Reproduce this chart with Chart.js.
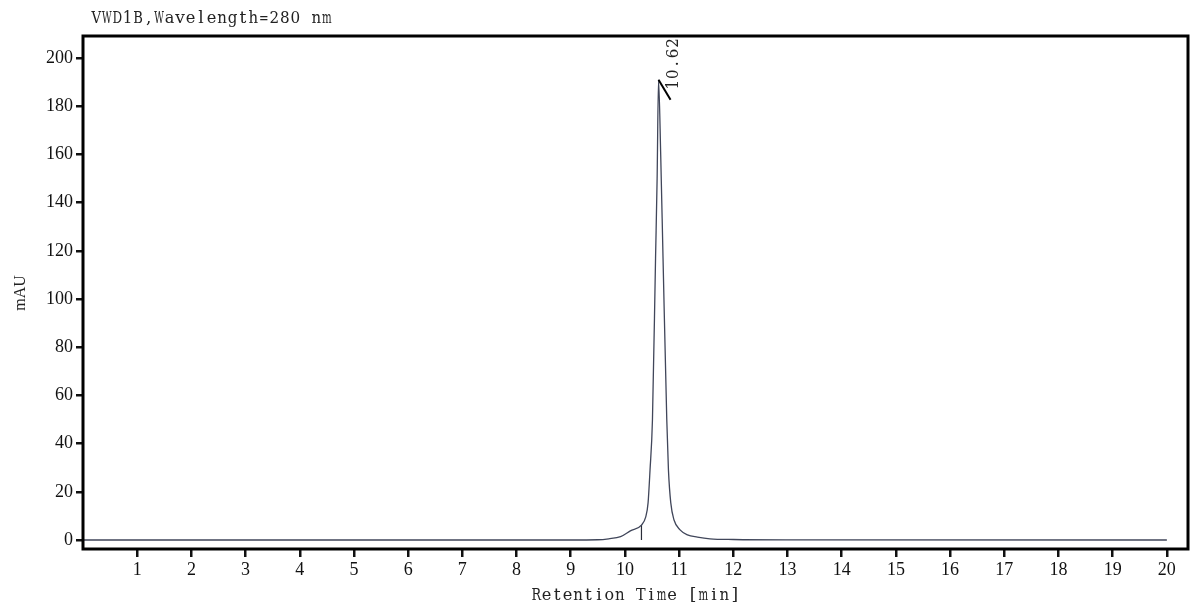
<!DOCTYPE html>
<html>
<head>
<meta charset="utf-8">
<title>VWD1B chromatogram</title>
<script src="https://cdn.jsdelivr.net/npm/chart.js@4.4.0/dist/chart.umd.min.js"></script>
<style>
  body { margin: 0; background: #fff; }
  #wrap { width: 1200px; height: 608px; }
</style>
</head>
<body>
<div id="wrap"><canvas id="chrom" width="1200" height="608"></canvas></div>
<script>
'use strict';
// chart data
var retentionTimes = [0, 5, 9.0, 9.5, 9.7, 9.92, 10.1, 10.305, 10.384, 10.427, 10.463, 10.508, 10.565, 10.594, 10.62,
  10.66, 10.703, 10.772, 10.803, 10.846, 10.906, 11.017, 11.154, 11.338, 11.57, 12.0, 13.0, 20];
var absorbance = [0, 0, 0, 0.1, 0.5, 1.4, 3.8, 6.2, 9.6, 15.4, 29, 50, 117, 150, 191,
  160, 117, 50, 29, 15.4, 8.3, 4.2, 2.1, 1.2, 0.5, 0.2, 0.05, 0];
var dropTime = [10.305, 10.305];
var dropValue = [0, 6.2];
var peakLabel = ['10.62'];
var peakTime = [10.62];
var peakHeight = [191];
var xTicks = [1, 2, 3, 4, 5, 6, 7, 8, 9, 10, 11, 12, 13, 14, 15, 16, 17, 18, 19, 20];
var yTicks = [0, 20, 40, 60, 80, 100, 120, 140, 160, 180, 200];

var serif = '"Liberation Serif", "DejaVu Serif", serif';
var wideSerif = '"DejaVu Serif", "Liberation Serif", serif';

var trace = [];
for (var i = 0; i < retentionTimes.length; i++) {
  trace.push({x: retentionTimes[i], y: absorbance[i]});
}
var drop = [];
for (var j = 0; j < dropTime.length; j++) {
  drop.push({x: dropTime[j], y: dropValue[j]});
}

//serif text on a fixed pitch, like the instrument software prints it
function drawMono(ctx, text, x, y, pitch){
  for (var k = 0; k < text.length; k++){
    var w = ctx.measureText(text[k]).width;
    var sx = w > 0 ? Math.min(1, pitch * 0.92 / w) : 1;
    ctx.save();
    ctx.translate(x + pitch * (k + 0.5), y);
    ctx.scale(sx, 1);
    ctx.fillText(text[k], 0, 0);
    ctx.restore();
  }
}

//frame, peak mark and texts
var decorations = {
  id: 'decorations',
  afterDatasetsDraw: function(chart) {
    var ctx = chart.ctx;
    var a = chart.chartArea;
    var xs = chart.scales.x;
    var ys = chart.scales.y;
    ctx.save();
    ctx.strokeStyle = '#000';
    ctx.lineWidth = 3;
    ctx.strokeRect(a.left, a.top, a.right - a.left, a.bottom - a.top);

    // peak apex marker
    var px = xs.getPixelForValue(peakTime[0]);
    var py = ys.getPixelForValue(peakHeight[0]);
    ctx.lineWidth = 2;
    ctx.beginPath();
    ctx.moveTo(px, py);
    ctx.lineTo(px + 12, py + 20);
    ctx.stroke();

    ctx.fillStyle = '#222';
    ctx.font = '17px ' + wideSerif;
    ctx.textAlign = 'center';
    ctx.textBaseline = 'alphabetic';
    ctx.translate(px + 19, py + 10);
    ctx.rotate(-Math.PI / 2);
    drawMono(ctx, peakLabel[0], 0, 0, 10.4);
    ctx.restore();

    ctx.save();
    ctx.fillStyle = '#222';
    ctx.font = '17px ' + wideSerif;
    ctx.textAlign = 'center';
    ctx.textBaseline = 'alphabetic';
    drawMono(ctx, 'VWD1B,Wavelength=280 nm', 91, 23, 10.48);
    var xt = 'Retention Time [min]';
    drawMono(ctx, xt, (a.left + a.right) / 2 - xt.length * 10.45 / 2, 600, 10.45);

    ctx.font = '16px ' + serif;
    ctx.translate(25, 293);
    ctx.rotate(-Math.PI / 2);
    ctx.fillText('mAU', 0, 0);
    ctx.restore();
  }
};

var ctx = document.getElementById('chrom');
var chromChart = new Chart(ctx, {
  type: 'line',
  data: {
    datasets: [{
      label: 'VWD1B',
      data: trace,
      borderColor: '#40465a',
      borderWidth: 1.3,
      pointRadius: 0,
      cubicInterpolationMode: 'monotone',
      fill: false
    }, {
      label: 'drop',
      data: drop,
      borderColor: '#2a2d38',
      borderWidth: 1.2,
      pointRadius: 0,
      fill: false
    }]
  },
  options: {
    responsive: false,
    animation: false,
    layout: { padding: { left: 0, right: 12, top: 36, bottom: 0 } },
    plugins: { legend: { display: false }, tooltip: { enabled: false } },
    scales: {
      x: {
        type: 'linear',
        min: 0,
        max: 20.39,
        afterBuildTicks: function(scale) {
          scale.ticks = xTicks.map(function(v) { return {value: v}; });
        },
        afterFit: function(scale) { scale.height = 59; },
        border: { display: false },
        grid: { drawOnChartArea: false, drawTicks: true, tickLength: 8, color: '#111', lineWidth: 2.5 },
        ticks: { color: '#111', font: { family: serif, size: 18 }, padding: 2, maxRotation: 0, autoSkip: false }
      },
      y: {
        min: -3.74,
        max: 209.2,
        afterBuildTicks: function(scale) {
          scale.ticks = yTicks.map(function(v) { return {value: v}; });
        },
        afterFit: function(scale) { scale.width = 83; },
        border: { display: false },
        grid: { drawOnChartArea: false, drawTicks: true, tickLength: 7, color: '#111', lineWidth: 2.5 },
        ticks: { color: '#111', font: { family: serif, size: 18 }, padding: 3, autoSkip: false }
      }
    }
  },
  plugins: [decorations]
});
</script>
</body>
</html>
